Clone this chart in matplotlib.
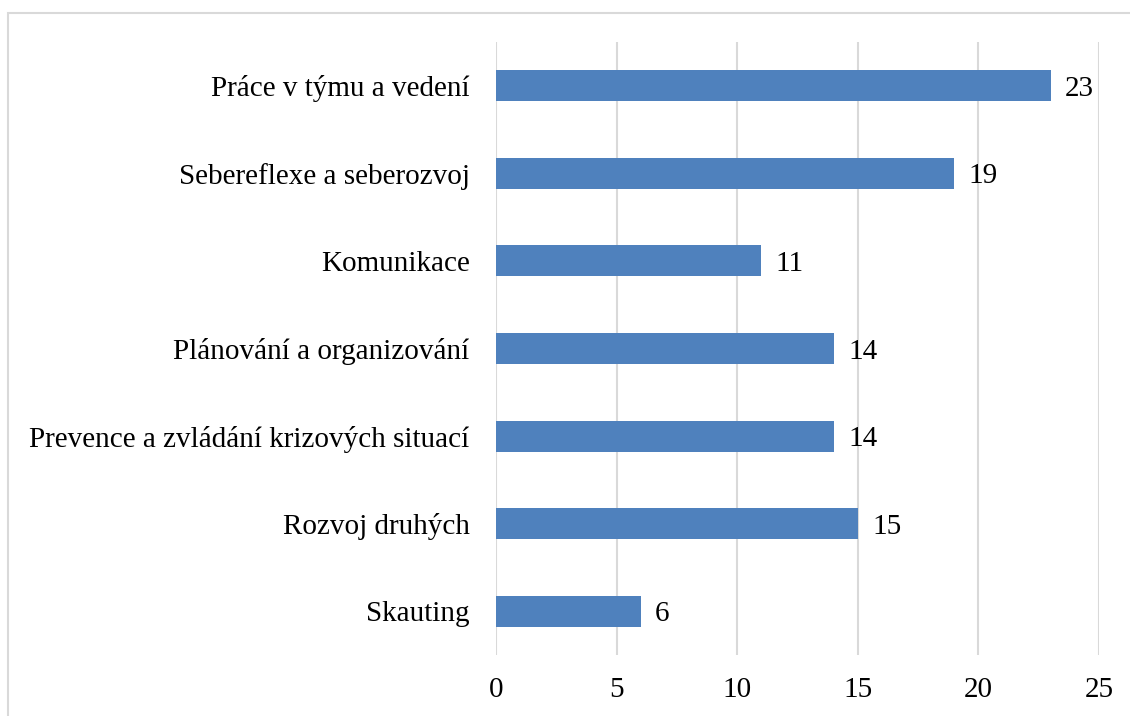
import matplotlib
matplotlib.use("Agg")
import matplotlib.pyplot as plt
from matplotlib.patches import Rectangle

# data (top to bottom as shown)
categories = ["Práce v týmu a vedení", "Sebereflexe a seberozvoj", "Komunikace",
              "Plánování a organizování", "Prevence a zvládání krizových situací",
              "Rozvoj druhých", "Skauting"]
values = [23, 19, 11, 14, 14, 15, 6]
xticks = [0, 5, 10, 15, 20, 25]

plt.rcParams['font.family'] = ['Liberation Serif', 'DejaVu Serif']
fs = 21

W, H = 1130, 716
fig = plt.figure(figsize=(W / 100, H / 100), dpi=100)
ax = fig.add_axes([496 / W, 1 - 655 / H, (1099 - 496) / W, (655 - 42) / H])

pos = list(range(len(categories)))
ax.barh(pos, values, height=0.355, color="#4F81BD", zorder=3)
for p, v in zip(pos, values):
    ax.text(v + 0.6, p, str(v), va="center_baseline", ha="left", fontsize=fs)

ax.set_ylim(len(categories) - 0.5, -0.5)
ax.set_xlim(0, 25)
ax.set_yticks(pos)
ax.set_yticklabels(categories, fontsize=fs, va="center_baseline")
ax.set_xticks(xticks)
ax.set_xticklabels([str(t) for t in xticks], fontsize=fs)
ax.tick_params(axis="both", length=0)
ax.tick_params(axis="y", pad=19)
ax.tick_params(axis="x", pad=16)
ax.grid(axis="x", color="#D9D9D9", linewidth=1.5, zorder=0)
for s in ax.spines.values():
    s.set_visible(False)

# outer chart frame
fig.patches.append(Rectangle((8 / W, -0.05), 1.1, 1 - 13 / H + 0.05, transform=fig.transFigure,
                             fill=False, edgecolor="#D9D9D9", linewidth=1.5))

fig.savefig("out.png", dpi=100)
